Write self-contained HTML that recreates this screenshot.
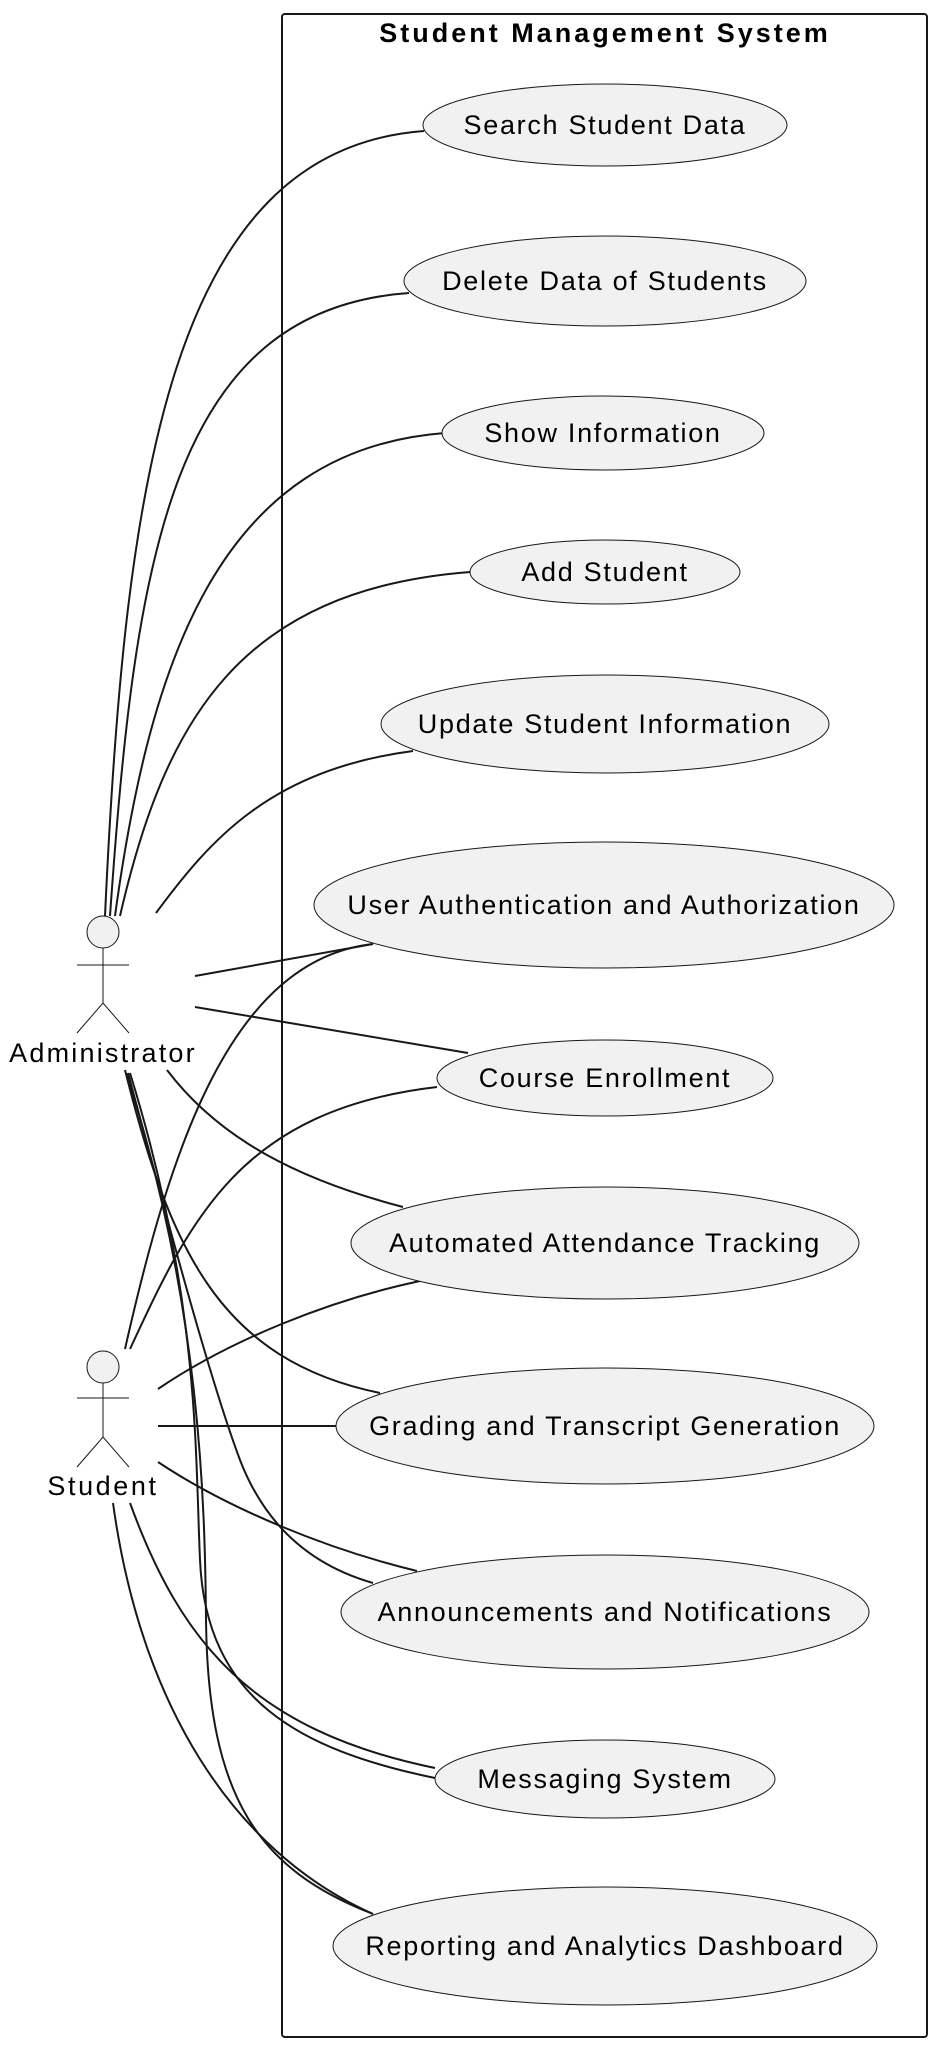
<!DOCTYPE html>
<html><head><meta charset="utf-8"><style>
html,body{margin:0;padding:0;background:#fff;}
svg{display:block;}
text{font-family:"Liberation Sans",Arial,sans-serif;fill:#000;}
</style></head><body>
<svg width="938" height="2050" viewBox="0 0 938 2050" xmlns="http://www.w3.org/2000/svg">
<rect x="282" y="14" width="645" height="2023" rx="3" fill="none" stroke="#181818" stroke-width="2"/>
<text x="605" y="42" text-anchor="middle" font-size="27" font-weight="bold" letter-spacing="3">Student Management System</text>
<g fill="none" stroke="#181818" stroke-width="2">
<path d="M105,916 C125,480 170,150 424,131"/>
<path d="M110,916 C135,560 170,310 409,293"/>
<path d="M115,916 C150,660 220,450 445,433"/>
<path d="M120,916 C165,720 240,590 470,572"/>
<path d="M156,913 C210,840 270,770 413,751"/>
<path d="M195,976 L373,944"/>
<path d="M195,1007 L468,1053"/>
<path d="M167,1070 C220,1140 300,1180 403,1207"/>
<path d="M125,1070 C170,1250 220,1360 380,1393"/>
<path d="M128,1073 C170,1230 210,1380 240,1460 C265,1525 310,1565 373,1583"/>
<path d="M130,1073 C200,1300 195,1450 200,1560 C206,1700 300,1750 435,1778"/>
<path d="M126,1073 C200,1300 205,1500 206,1620 C208,1800 260,1870 373,1914"/>
<path d="M125,1349 C170,1150 230,960 373,944"/>
<path d="M130,1349 C190,1220 240,1110 437,1087"/>
<path d="M158,1389 C230,1340 330,1300 420,1281"/>
<path d="M158,1426 L336,1426"/>
<path d="M158,1462 C230,1510 330,1550 417,1571"/>
<path d="M130,1503 C180,1640 250,1730 435,1768"/>
<path d="M113,1503 C140,1700 230,1850 373,1914"/>
</g>
<g fill="#f1f1f1" stroke="#181818" stroke-width="1">
<ellipse cx="605" cy="125" rx="182" ry="41"/>
<ellipse cx="605" cy="281" rx="201" ry="45"/>
<ellipse cx="603" cy="433" rx="161" ry="37"/>
<ellipse cx="605" cy="572" rx="135" ry="32"/>
<ellipse cx="605" cy="724" rx="224" ry="49"/>
<ellipse cx="604" cy="905" rx="290" ry="63"/>
<ellipse cx="605" cy="1078" rx="168" ry="38"/>
<ellipse cx="605" cy="1243" rx="254" ry="56"/>
<ellipse cx="605" cy="1426" rx="269" ry="58"/>
<ellipse cx="605" cy="1612" rx="264" ry="57"/>
<ellipse cx="605" cy="1779" rx="170" ry="39"/>
<ellipse cx="605" cy="1946" rx="272" ry="59"/>
</g>
<g font-size="27" letter-spacing="1.7" text-anchor="middle">
<text x="605" y="134">Search Student Data</text>
<text x="605" y="290">Delete Data of Students</text>
<text x="603" y="442">Show Information</text>
<text x="605" y="581">Add Student</text>
<text x="605" y="733">Update Student Information</text>
<text x="604" y="914">User Authentication and Authorization</text>
<text x="605" y="1087">Course Enrollment</text>
<text x="605" y="1252">Automated Attendance Tracking</text>
<text x="605" y="1435">Grading and Transcript Generation</text>
<text x="605" y="1621">Announcements and Notifications</text>
<text x="605" y="1788">Messaging System</text>
<text x="605" y="1955">Reporting and Analytics Dashboard</text>
</g>
<g stroke="#181818" stroke-width="1" fill="none">
<circle cx="103" cy="932" r="16" fill="#f1f1f1"/>
<path d="M77,965 H129 M103,948 V1003 M77,1033 L103,1003 L129,1033"/>
<circle cx="103" cy="1367" r="16" fill="#f1f1f1"/>
<path d="M77,1398 H129 M103,1383 V1437 M77,1467 L103,1437 L129,1467"/>
</g>
<text x="103" y="1062" text-anchor="middle" font-size="27" letter-spacing="2.2">Administrator</text>
<text x="103" y="1495" text-anchor="middle" font-size="27" letter-spacing="2.6">Student</text>
</svg>
</body></html>
